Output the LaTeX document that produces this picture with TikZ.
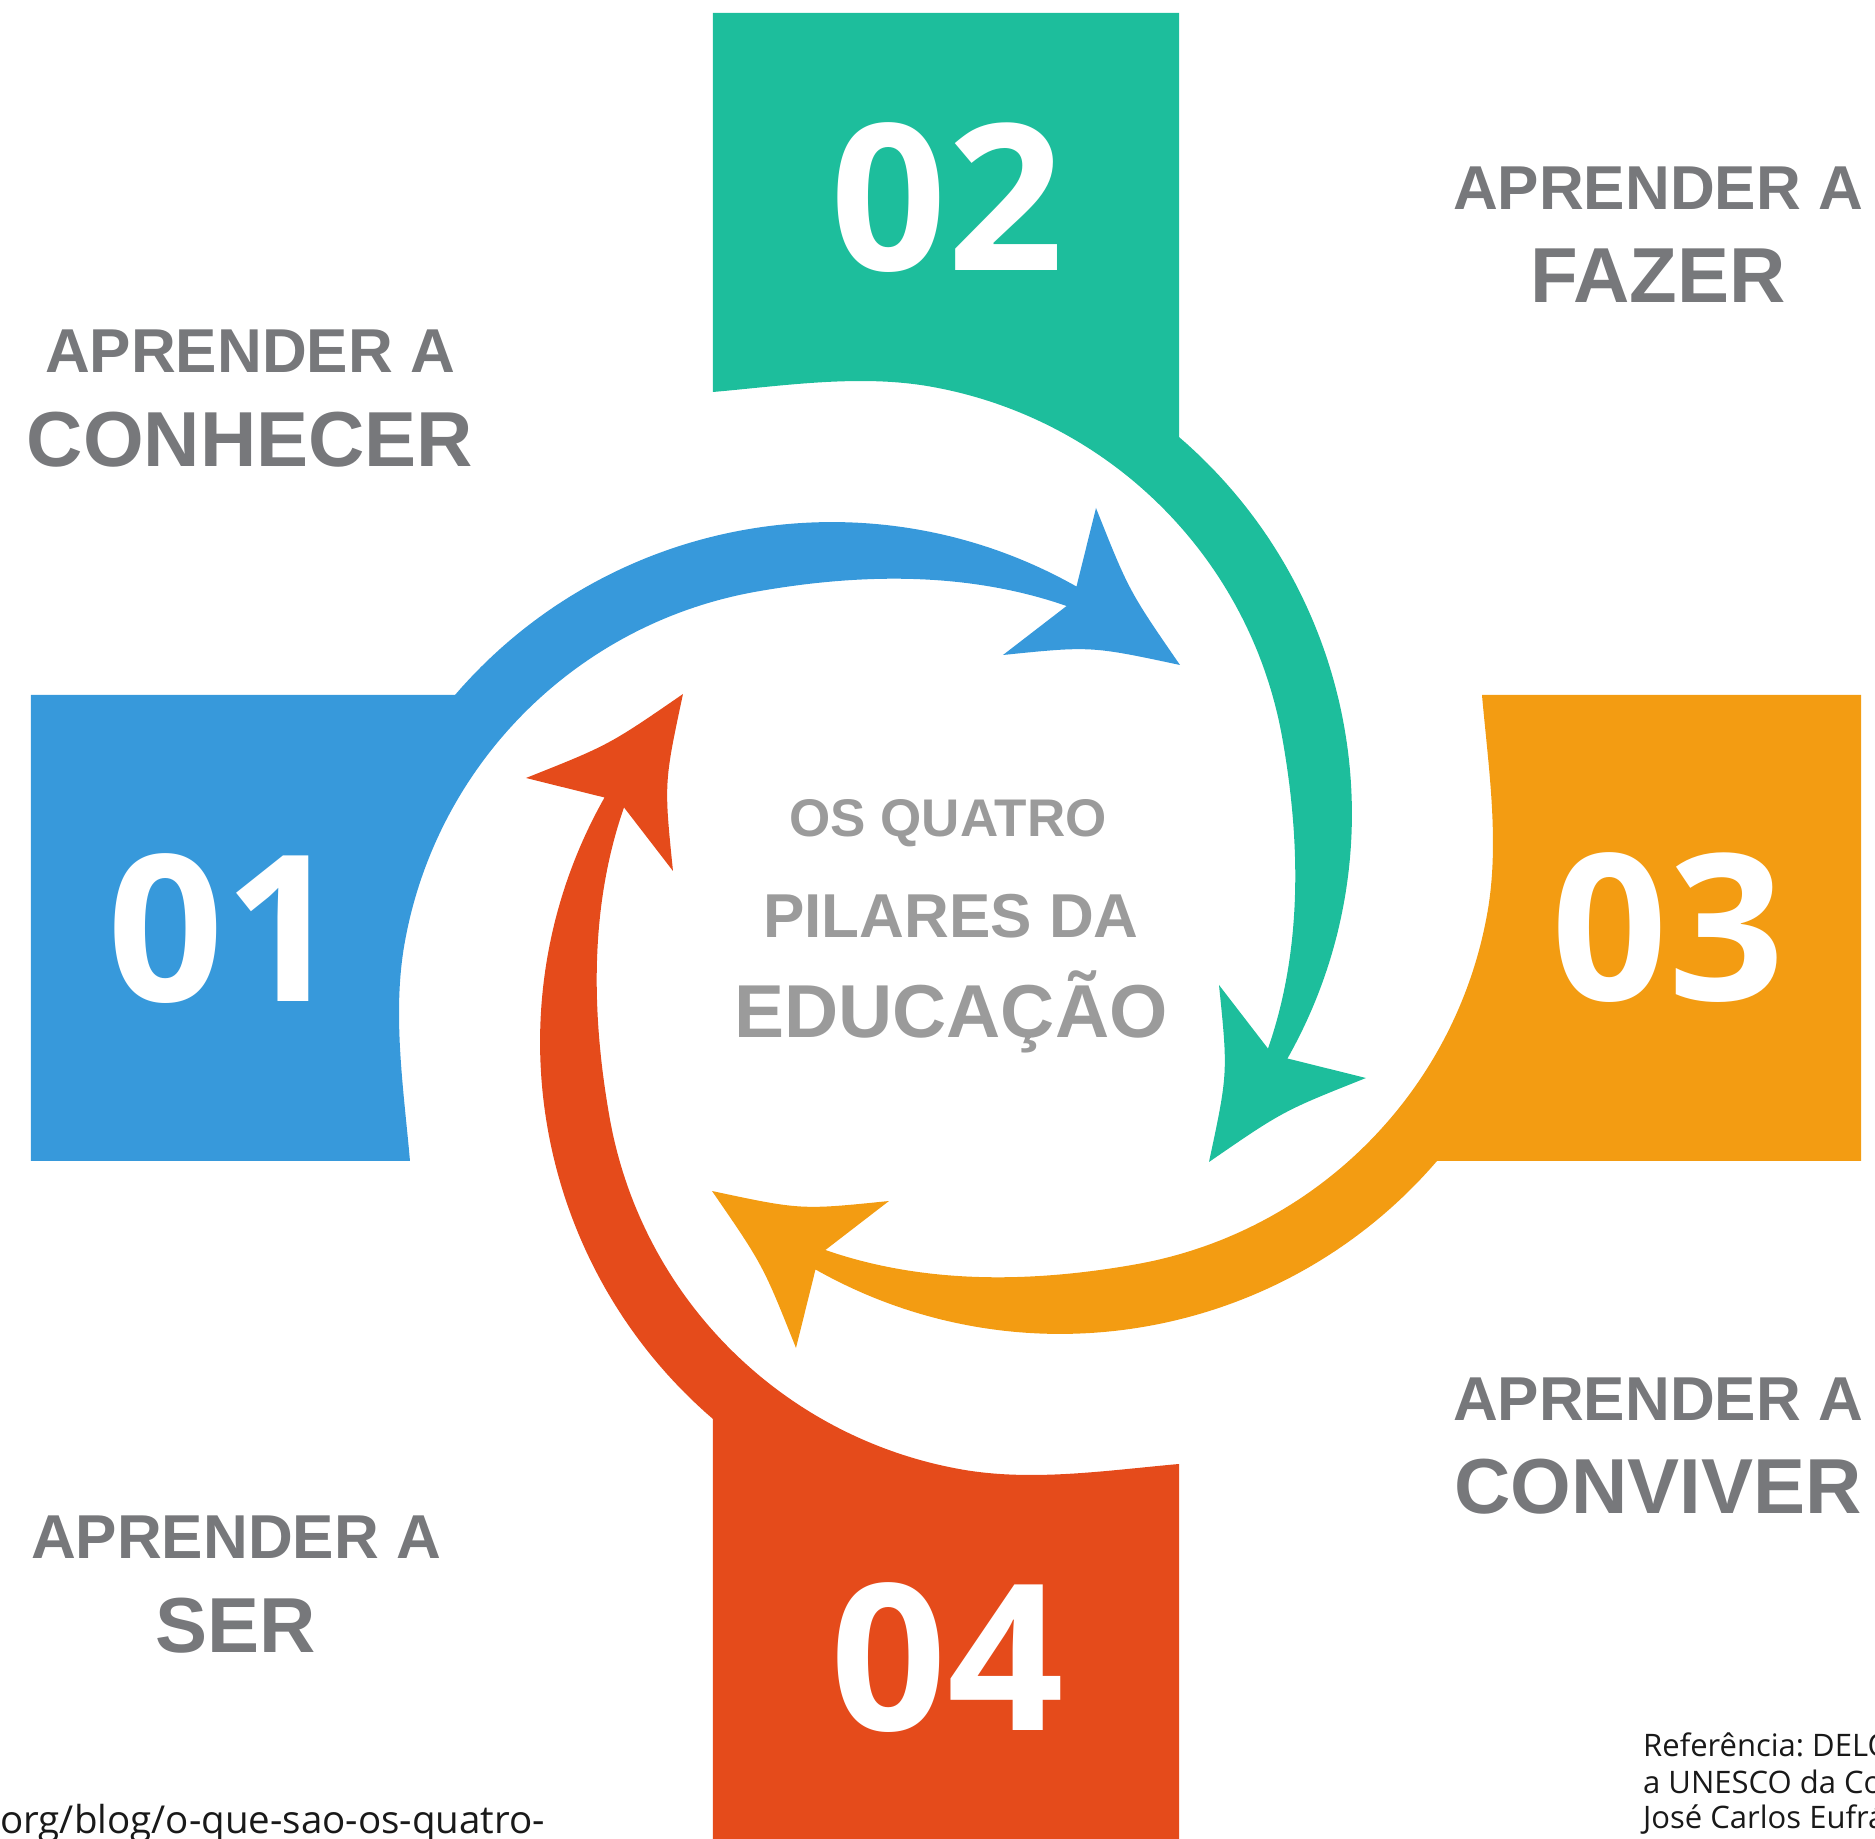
\documentclass[tikz,border=0pt]{standalone}
\usepackage{fontspec}
\newfontfamily\numfont{Open Sans}
\newfontfamily\labelfont{Liberation Sans}
\definecolor{pilarblue}{HTML}{3799DB}
\definecolor{pilargreen}{HTML}{1DBE9C}
\definecolor{pilarorange}{HTML}{F39C12}
\definecolor{pilarred}{HTML}{E54B1B}
\definecolor{labelgray}{HTML}{77787B}
\definecolor{centergray}{HTML}{9B9B9B}
\frenchspacing
\tikzset{
    pillarnum/.style={text=white, inner sep=0, anchor=base, font=\numfont\bfseries\fontsize{204}{204}\selectfont},
    labelsmall/.style={text=labelgray, inner sep=0, anchor=base, font=\labelfont\bfseries\fontsize{62}{62}\selectfont},
    labelbig/.style={text=labelgray, inner sep=0, anchor=base, font=\labelfont\bfseries\fontsize{78}{78}\selectfont},
    refline/.style={text=black!90, inner sep=0, anchor=base west, font=\numfont\fontsize{31}{36}\selectfont}
}
\begin{document}
\begin{tikzpicture}[x=1pt,y=1pt]
    \useasboundingbox (-946,-911) rectangle (929,928);
    %draw the four pillars
    \foreach \ang/\col in {0/pilarblue,-90/pilargreen,-180/pilarorange,-270/pilarred}
        {%
            \fill[\col, rotate=\ang] (-915,233) -- (-491,233)
                arc[start angle=139.3, end angle=60.5, radius=497]
                -- (150,420) .. controls (183,337) .. (234,263)
                .. controls (145,282) .. (57,273)
                -- (120.6,322) .. controls (21.5,356.5) and (-86,354.7) .. (-189.4,336.4)
                arc[start angle=100, end angle=170, radius=434]
                .. controls (-553.9,-86.5) and (-542.3,-161.3) .. (-536,-233)
                -- (-915,-233) -- cycle;
        }
    %draw numbers
    \node[pillarnum] (num1) at (-722,-74) {01};
    \node[pillarnum] (num2) at (1,657) {02};
    \node[pillarnum] (num3) at (722,-73) {03};
    \node[pillarnum] (num4) at (1,-802) {04};
    %draw labels
    \node[labelsmall] (conhecer1) at (-696,555) {APRENDER A};
    \node[labelbig] (conhecer2) at (-696,461) {CONHECER};
    \node[labelsmall] (fazer1) at (712,718) {APRENDER A};
    \node[labelbig] (fazer2) at (712,625) {FAZER};
    \node[labelsmall] (conviver1) at (712,-492) {APRENDER A};
    \node[labelbig] (conviver2) at (712,-585) {CONVIVER};
    \node[labelsmall] (ser1) at (-710,-630) {APRENDER A};
    \node[labelbig] (ser2) at (-710,-724) {SER};
    %draw title
    \node[labelsmall, text=centergray, font=\labelfont\bfseries\fontsize{53}{53}\selectfont] (title1) at (2,91) {OS QUATRO};
    \node[labelsmall, text=centergray, font=\labelfont\bfseries\fontsize{62}{62}\selectfont] (title2) at (5,-10) {PILARES DA};
    \node[labelsmall, text=centergray, font=\labelfont\bfseries\fontsize{75}{75}\selectfont] (title3) at (5,-110) {EDUCAÇÃO};
    %draw reference
    \node[refline, font=\numfont\fontsize{38.5}{42}\selectfont] (link) at (-946,-905) {org/blog/o-que-sao-os-quatro-};
    \node[refline] (ref1) at (697,-828) {Referência: DELO};
    \node[refline] (ref2) at (697,-865) {a UNESCO da Co};
    \node[refline] (ref3) at (697,-900) {José Carlos Eufrá};
\end{tikzpicture}
\end{document}
